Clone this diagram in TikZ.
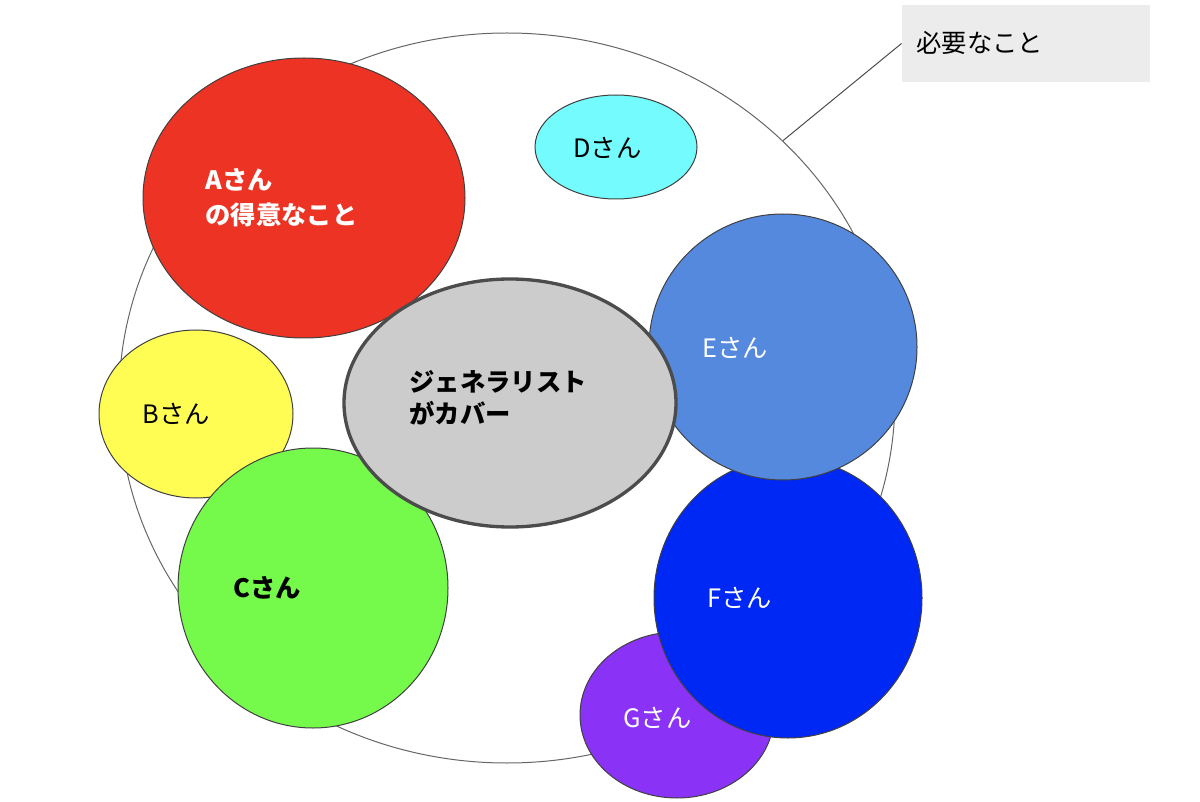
\documentclass[tikz,border=0pt]{standalone}
\usepackage{fontspec}
\setmainfont{Noto Sans CJK JP}
\usetikzlibrary{shapes.geometric}
\definecolor{cRed}{RGB}{236,51,36}
\definecolor{cCyan}{RGB}{115,251,253}
\definecolor{cSky}{RGB}{84,137,222}
\definecolor{cYellow}{RGB}{255,253,84}
\definecolor{cGray}{RGB}{204,204,204}
\definecolor{cGreen}{RGB}{117,250,76}
\definecolor{cBlue}{RGB}{0,40,245}
\definecolor{cPurple}{RGB}{138,51,246}
\definecolor{cBox}{RGB}{236,236,236}
\tikzset{every picture/.style={line width=0.75pt}}
\tikzset{
  blob/.style={ellipse,draw=black!75,line width=0.75pt,inner sep=0pt},
  lbl/.style={anchor=west,inner sep=0.75pt,font=\fontsize{19}{25}\selectfont,align=left}
}

\begin{document}
\begin{tikzpicture}[x=0.75pt,y=0.75pt,yscale=-1,xscale=1]
\useasboundingbox (0,0) rectangle (1200,802);

%Whole area
\node [blob,draw=black!60,minimum width=582pt,minimum height=547.5pt] (whole) at (507,398) {};
\node [fill=cBox,minimum width=186pt,minimum height=57.75pt,inner sep=0pt] (need) at (1026,43.5) {};
\node [lbl] (needt) at (915,43) {必要なこと};
\draw [black!70] (whole.43) -- (need.west);

%Members
\node [blob,fill=cRed,minimum width=241.5pt,minimum height=210pt] (a) at (304,198) {};
\node [blob,fill=cCyan,minimum width=121.5pt,minimum height=78pt] (d) at (616,147) {};
\node [blob,fill=cYellow,minimum width=145.5pt,minimum height=126pt] (b) at (196,414) {};
\node [blob,fill=cGreen,minimum width=202.5pt,minimum height=210pt] (c) at (313,588) {};
\node [blob,fill=cPurple,minimum width=145.5pt,minimum height=124.5pt] (g) at (677,715) {};
\node [blob,fill=cBlue,minimum width=201pt,minimum height=210pt] (f) at (788,598) {};
\node [blob,fill=cSky,minimum width=201pt,minimum height=199.5pt] (e) at (783,347) {};
\node [blob,fill=cGray,draw=black!70,line width=2.5pt,minimum width=249pt,minimum height=186pt] (gen) at (510,403) {};

\node [lbl,text=white,font=\fontsize{19}{26}\selectfont\bfseries] (at) at (204,198) {Aさん\\の得意なこと};
\node [lbl] (dt) at (572,148) {Dさん};
\node [lbl,text=white] (et) at (701,348) {Eさん};
\node [lbl] (bt) at (141,414) {Bさん};
\node [lbl,font=\fontsize{19}{24}\selectfont\bfseries] (gent) at (408,398) {ジェネラリスト\\がカバー};
\node [lbl,font=\fontsize{19}{25}\selectfont\bfseries] (ct) at (232,588) {Cさん};
\node [lbl,text=white] (ft) at (706,598) {Fさん};
\node [lbl,text=white] (gt) at (622,718) {Gさん};
\end{tikzpicture}
\end{document}
